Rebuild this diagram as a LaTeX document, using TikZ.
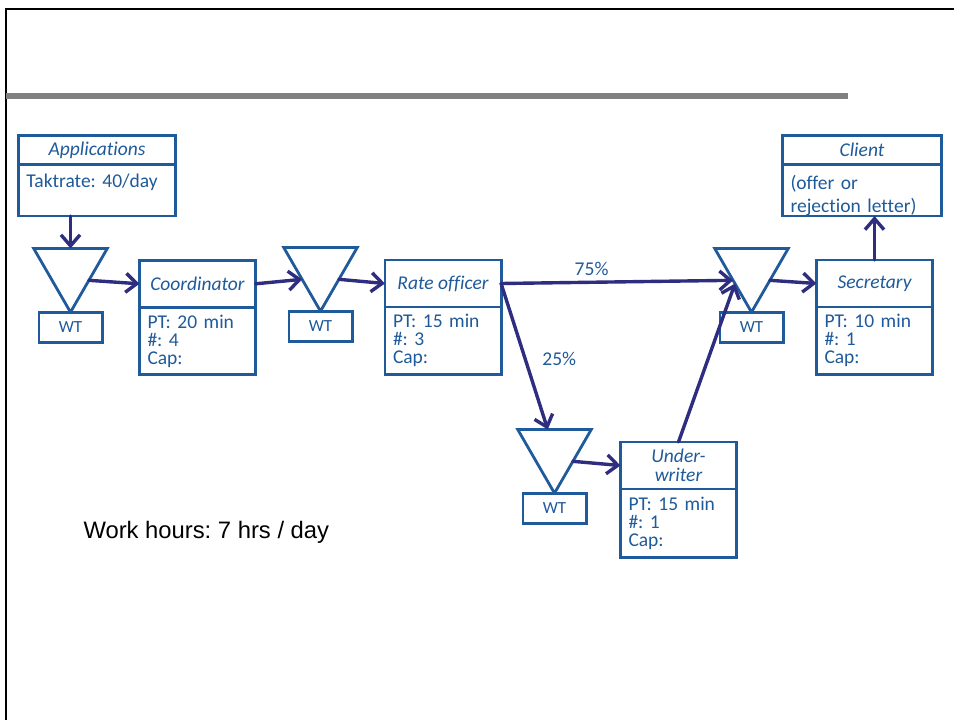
\documentclass[tikz,border=0pt]{standalone}
\usepackage{fontspec}
\setmainfont{Carlito}[RawFeature=-liga]
\newfontfamily\arialfont{Liberation Sans}
\usetikzlibrary{positioning,shapes.geometric,arrows.meta}
\definecolor{boxblue}{RGB}{31,90,154}
\definecolor{flowblue}{RGB}{46,45,128}
\frenchspacing
\tikzset{
  stagehead/.style={draw=boxblue, line width=2.8pt, fill=white, text=boxblue,
    font=\fontsize{19.5}{19}\selectfont\itshape, minimum width=116.2pt,
    minimum height=47.1pt, inner sep=0pt, outer sep=0pt, align=center},
  stagebody/.style={draw=boxblue, line width=2.8pt, fill=white, text=boxblue,
    font=\fontsize{19.5}{18}\selectfont, text width=100pt, minimum height=67.1pt,
    inner xsep=8.1pt, inner ysep=0pt, outer sep=0pt, align=left},
  wait/.style={regular polygon, regular polygon sides=3, shape border rotate=180,
    draw=boxblue, line width=2.8pt, minimum size=85pt, inner sep=0pt, outer sep=0pt},
  wtbox/.style={draw=boxblue, line width=2.8pt, fill=white, text=boxblue,
    font=\fontsize{17}{17}\selectfont, minimum width=63.2pt, minimum height=30.2pt,
    inner sep=0pt, outer sep=0pt},
  flow/.style={draw=flowblue, line width=3.4pt, line cap=round,
    -{Straight Barb[length=11pt,width=19pt,line width=3.4pt]}},
  share/.style={text=boxblue, font=\fontsize{19.5}{19}\selectfont}
}
\begin{document}
\begin{tikzpicture}[x=1pt, y=-1pt]
  \useasboundingbox (0,0) rectangle (954,720);
  % slide frame and title rule
  \draw[line width=2.8pt] (6,720) -- (6,9) -- (954,9);
  \fill[gray] (6,93) rectangle (848,99);

  % source and customer
  \node[stagehead, minimum width=157.2pt, minimum height=29.3pt] (apph) at (97,149.9) {Applications};
  \node[stagebody, below=0pt of apph, text width=141pt, text height=23pt, text depth=28.5pt,
    minimum height=0pt] (appb) {Taktrate: 40/day};
  \node[stagehead, minimum width=159.2pt, minimum height=29.3pt] (clienth) at (862,149.9) {Client};
  \node[stagebody, below=0pt of clienth, text width=143pt, text height=24.5pt, text depth=27pt,
    minimum height=0pt, font=\fontsize{19.5}{23}\selectfont] (clientb)
    {\parbox[t]{143pt}{(offer or\\rejection letter)}};

  % process steps
  \node[stagehead] (coordh) at (197.5,283.8) {Coordinator};
  \node[stagebody, below=0pt of coordh] (coordb) {PT: 20 min\\\#: 4\\Cap:};
  \node[stagehead] (rateh) at (443,283.5) {Rate officer};
  \node[stagebody, below=0pt of rateh] (rateb) {PT: 15 min\\\#: 3\\Cap:};
  \node[stagehead] (secrh) at (874.5,283.5) {Secretary};
  \node[stagebody, below=0pt of secrh] (secrb) {PT: 10 min\\\#: 1\\Cap:};
  \node[stagehead] (uwh) at (678.5,465.5) {Under-\\writer};
  \node[stagebody, below=0pt of uwh, minimum height=68.1pt] (uwb) {PT: 15 min\\\#: 1\\Cap:};

  % waiting queues
  \node[wait] (tri1) at (70.5,269.7) {};
  \node[wtbox, anchor=north] (wt1) at (tri1.-90) {WT};
  \node[wait] (tri2) at (320.5,268.7) {};
  \node[wtbox, anchor=north] (wt2) at (tri2.-90) {WT};
  \node[wait] (tri3) at (751.5,269.7) {};
  \node[wtbox, anchor=north] (wt3) at (tri3.-90) {WT};
  \node[wait] (tri4) at (554.5,450.7) {};
  \node[wtbox, anchor=north] (wt4) at (tri4.-90) {WT};

  % flow
  \draw[flow] (tri1.90 |- appb.south) -- (tri1.90);
  \draw[flow] (tri1.-30) -- (coordh.west);
  \draw[flow] (coordh.east) -- (tri2.210);
  \draw[flow] (tri2.-30) -- (rateh.west);
  \draw[flow] (rateh.east) -- node[share, pos=0.39, above=2pt] (p75) {75\%} (tri3.210);
  \draw[flow] (rateh.east) -- node[share, pos=0.52, right=12pt] (p25) {25\%} (tri4);
  \draw[flow] (tri4.-30) -- (uwh.west);
  \draw[flow] (uwh.north) -- (tri3.220);
  \draw[flow] (tri3.-30) -- (secrh.west);
  \draw[flow] (secrh.north) -- (secrh.north |- clientb.south);

  \node[anchor=west, font=\arialfont\fontsize{23.8}{24}\selectfont] (hours) at (80,532) {Work hours: 7 hrs / day};
\end{tikzpicture}
\end{document}
